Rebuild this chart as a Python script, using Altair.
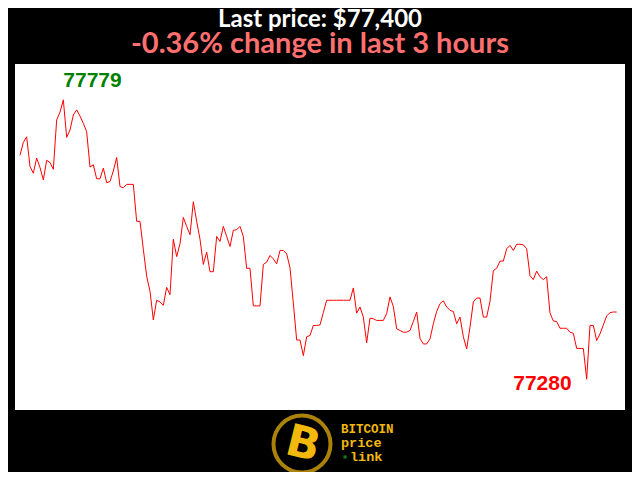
import altair as alt
import pandas as pd

# minute index over the last 3 hours
minutes = list(range(180))
prices = [
    77680, 77703, 77713, 77660, 77648, 77675, 77658, 77636, 77671, 77667,
    77655, 77743, 77757, 77779, 77712, 77725, 77752, 77761, 77750, 77737,
    77722, 77659, 77663, 77638, 77638, 77657, 77631, 77633, 77652, 77676,
    77624, 77622, 77628, 77628, 77628, 77562, 77562, 77512, 77464, 77437,
    77386, 77421, 77418, 77412, 77444, 77431, 77530, 77499, 77522, 77569,
    77553, 77538, 77597, 77562, 77530, 77485, 77507, 77472, 77472, 77535,
    77526, 77553, 77535, 77517, 77546, 77547, 77553, 77535, 77478, 77478,
    77411, 77411, 77411, 77485, 77489, 77501, 77495, 77486, 77510, 77510,
    77504, 77479, 77416, 77350, 77350, 77322, 77356, 77358, 77376, 77376,
    77377, 77399, 77421, 77421, 77421, 77421, 77421, 77421, 77421, 77421,
    77443, 77398, 77409, 77391, 77345, 77389, 77388, 77385, 77385, 77385,
    77397, 77427, 77410, 77370, 77367, 77364, 77364, 77367, 77383, 77400,
    77353, 77343, 77343, 77352, 77379, 77401, 77415, 77420, 77409, 77403,
    77401, 77379, 77391, 77356, 77334, 77373, 77418, 77425, 77425, 77391,
    77391, 77419, 77474, 77478, 77491, 77491, 77513, 77519, 77510, 77521,
    77521, 77520, 77513, 77465, 77458, 77473, 77463, 77458, 77463, 77398,
    77384, 77383, 77371, 77371, 77371, 77364, 77362, 77335, 77335, 77335,
    77280, 77376, 77376, 77349, 77361, 77377, 77393, 77399, 77400, 77400,
]

title_text = "Last price: $77,400"
subtitle_text = "-0.36% change in last 3 hours"
logo_lines = ["BITCOIN", "price", "link"]

df = pd.DataFrame({"t": minutes, "price": prices})
hi_i = prices.index(max(prices))
lo_i = prices.index(min(prices))
df_hi = df.iloc[[hi_i]]
df_lo = df.iloc[[lo_i]]

xs = alt.Scale(domain=[-1.5, 181.5], nice=False, zero=False)
ys = alt.Scale(domain=[77225, 77843], nice=False, zero=False)
X = alt.X("t:Q", scale=xs, axis=None)
Y = alt.Y("price:Q", scale=ys, axis=None)

line = alt.Chart(df).mark_line(color="#ff0000", strokeWidth=1).encode(x=X, y=Y)

hi_lbl = alt.Chart(df_hi).mark_text(
    color="#008000", font="Liberation Sans", fontWeight="bold", fontSize=21,
    align="left", baseline="bottom", dy=-9
).encode(x=X, y=Y, text=alt.Text("price:Q", format="d"))

lo_lbl = alt.Chart(df_lo).mark_text(
    color="#ff0000", font="Liberation Sans", fontWeight="bold", fontSize=21,
    align="right", baseline="middle", dx=-15, dy=5
).encode(x=X, y=Y, text=alt.Text("price:Q", format="d"))

gold = "#f2b90c"
logo_df = pd.DataFrame({"k": [0]})
ring = alt.Chart(logo_df).mark_point(
    shape="circle", size=3250, filled=False, stroke=gold, strokeWidth=4, fill="#000000"
).encode(x=alt.value(287), y=alt.value(380))
bee = alt.Chart(logo_df).mark_text(
    text="B", font="DejaVu Sans", fontWeight="bold", fontSize=44, color=gold,
    align="center", baseline="middle", angle=14
).encode(x=alt.value(288), y=alt.value(381))
t1 = alt.Chart(logo_df).mark_text(
    text=logo_lines[0], font="Liberation Mono", fontWeight="bold", fontSize=12.5,
    color=gold, align="left", baseline="middle"
).encode(x=alt.value(326), y=alt.value(365))
t2 = alt.Chart(logo_df).mark_text(
    text=logo_lines[1], font="Liberation Mono", fontWeight="bold", fontSize=13.5,
    color=gold, align="left", baseline="middle"
).encode(x=alt.value(326), y=alt.value(379))
dot = alt.Chart(logo_df).mark_square(size=10, color="#22aa22").encode(
    x=alt.value(330), y=alt.value(393))
t3 = alt.Chart(logo_df).mark_text(
    text=logo_lines[2], font="Liberation Mono", fontWeight="bold", fontSize=13.5,
    color=gold, align="left", baseline="middle"
).encode(x=alt.value(335), y=alt.value(393))

chart = alt.layer(line, hi_lbl, lo_lbl, ring, bee, t1, t2, dot, t3).properties(
    width=610,
    height=346,
    autosize=alt.AutoSizeParams(type="none"),
    padding={"left": 7, "top": 56, "right": 7, "bottom": 62},
    background="#000000",
    title=alt.TitleParams(
        text=title_text,
        subtitle=subtitle_text,
        color="#ffffff",
        subtitleColor="#ff6f6f",
        font="Lato",
        subtitleFont="Lato",
        fontWeight="bold",
        subtitleFontWeight="bold",
        fontSize=24,
        subtitleFontSize=29,
        anchor="middle",
        offset=5,
        subtitlePadding=-2,
    ),
).configure_view(fill="#ffffff", stroke=None)

chart.save("out.html", embed_options={"renderer": "svg", "actions": False})
